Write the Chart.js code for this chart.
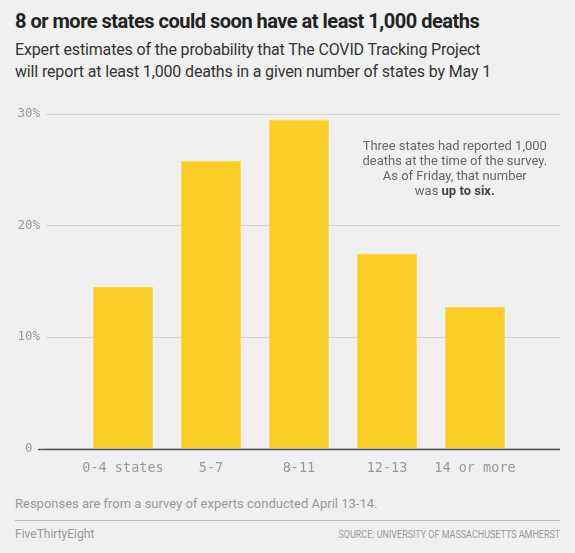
<!DOCTYPE html>
<html>
<head>
<meta charset="utf-8">
<script src="https://cdn.jsdelivr.net/npm/chart.js@4.4.0/dist/chart.umd.min.js"></script>
<style>
  html, body { margin: 0; padding: 0; background: #f0f0f0; }
  body { width: 575px; height: 553px; position: relative; overflow: hidden; font-family: "Roboto", sans-serif; }
  #title { position: absolute; left: 15px; top: 9px; font-size: 20px; font-weight: 700; color: #222; letter-spacing: -0.5px; }
  #subtitle { position: absolute; left: 15px; top: 39px; font-size: 16px; line-height: 22px; color: #333; letter-spacing: -0.15px; }
  #wrap { position: absolute; left: 0; top: 95px; width: 575px; height: 398px; }
  #note { position: absolute; left: 15px; top: 496px; font-size: 13px; color: #999; }
  #rule { position: absolute; left: 15px; top: 520px; width: 545px; height: 0; border-top: 1.5px solid #bbb; }
  #brand { position: absolute; left: 15px; top: 527px; font-size: 12px; color: #999; }
  #source { position: absolute; right: 15px; top: 527px; font-size: 11.5px; color: #999; transform: scaleX(0.78); transform-origin: right center; white-space: nowrap; }
</style>
</head>
<body>
<div id="title">8 or more states could soon have at least 1,000 deaths</div>
<div id="subtitle">Expert estimates of the probability that The COVID Tracking Project<br>will report at least 1,000 deaths in a given number of states by May 1</div>
<div id="wrap"><canvas id="chart" width="575" height="398"></canvas></div>
<div id="note">Responses are from a survey of experts conducted April 13-14.</div>
<div id="rule"></div>
<div id="brand">FiveThirtyEight</div>
<div id="source">SOURCE: UNIVERSITY OF MASSACHUSETTS AMHERST</div>

<script>
const categories = ["0-4 states", "5-7", "8-11", "12-13", "14 or more"];
const probabilities = [14.5, 25.8, 29.5, 17.5, 12.7];
const yTicks = [0, 10, 20, 30];

const ctx = document.getElementById("chart").getContext("2d");
const monoFont = "'DejaVu Sans Mono', monospace";
const textFont = "Roboto, sans-serif";

const points = probabilities.map((v, i) => ({ x: i, y: v }));

// zero line across the full width, plus the text note
const extras = {
  id: "extras",
  afterDatasetsDraw(chart) {
    const c = chart.ctx;
    const x = chart.scales.x;
    const y = chart.scales.y;
    const y0 = Math.round(y.getPixelForValue(0)) + 0.5;
    c.save();
    c.strokeStyle = "#555";
    c.lineWidth = 1.5;
    c.beginPath();
    c.moveTo(chart.chartArea.left - 8, y0);
    c.lineTo(chart.chartArea.right, y0);
    c.stroke();

    const cx = x.getPixelForValue(3.77);
    let ty = y.getPixelForValue(27.1);
    c.fillStyle = "#666";
    c.textAlign = "center";
    c.textBaseline = "middle";
    c.font = "13px " + textFont;
    const lines = ["Three states had reported 1,000", "deaths at the time of the survey.", "As of Friday, that number"];
    lines.forEach(l => { c.fillText(l, cx, ty); ty += 15; });
    const a = "was ";
    const b = "up to six.";
    const wa = c.measureText(a).width;
    c.font = "bold 13px " + textFont;
    const wb = c.measureText(b).width;
    const sx = cx - (wa + wb) / 2;
    c.textAlign = "left";
    c.font = "13px " + textFont;
    c.fillText(a, sx, ty);
    c.font = "bold 13px " + textFont;
    c.fillStyle = "#444";
    c.fillText(b, sx + wa, ty);
    c.restore();
  }
};

new Chart(ctx, {
  type: "bar",
  data: {
    datasets: [{
      data: points,
      backgroundColor: "#fccd25",
      borderColor: "#fbd54a",
      borderWidth: { top: 1, left: 1, right: 1, bottom: 0 },
      barPercentage: 0.68,
      categoryPercentage: 1
    }]
  },
  options: {
    responsive: false,
    animation: false,
    layout: { padding: { top: 19, right: 15, bottom: 4, left: 0 } },
    plugins: { legend: { display: false }, tooltip: { enabled: false } },
    scales: {
      x: {
        type: "linear",
        offset: false,
        min: -0.875,
        max: 4.966,
        afterBuildTicks: scale => { scale.ticks = categories.map((c, i) => ({ value: i })); },
        grid: { display: false, drawTicks: false, offset: false },
        border: { display: false },
        ticks: {
          padding: 12,
          autoSkip: false,
          maxRotation: 0,
          color: "#999",
          font: { family: monoFont, size: 13.5 },
          callback: v => categories[v]
        }
      },
      y: {
        min: 0,
        max: 30,
        afterBuildTicks: scale => { scale.ticks = yTicks.map(v => ({ value: v })); },
        afterFit: scale => { scale.width = 46; },
        grid: { color: "#d4d4d4", lineWidth: 1, drawTicks: false },
        border: { display: false },
        ticks: {
          padding: 6,
          color: "#999",
          font: { family: monoFont, size: 12.5 },
          callback: v => v === 0 ? "0 " : v + "%"
        }
      }
    }
  },
  plugins: [extras]
});
</script>
</body>
</html>
